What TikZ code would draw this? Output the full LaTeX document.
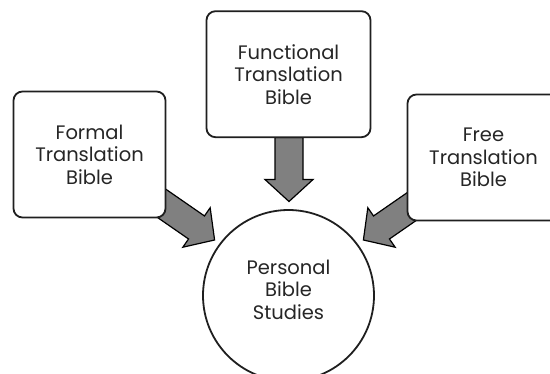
\documentclass[tikz,border=0pt]{standalone}
\usepackage{fontspec}
\setmainfont{Poppins}
\usetikzlibrary{positioning, backgrounds, calc}
\def\ArrowColor{black!50}
\def\LineColor{black!88}
\def\BoxFont{\fontsize{19.5}{22.5}\selectfont}

\begin{document}
\begin{tikzpicture} [
    x=1pt, y=-1pt,
    B/.style = {draw=\LineColor, line width=1.8pt, fill=white, rounded corners=9pt,
                minimum width=152pt, minimum height=126pt, align=center,
                text=black!85, font=\BoxFont},
    C/.style = {draw=\LineColor, line width=1.8pt, fill=white, circle, minimum size=171pt,
                align=center, text depth=12pt, text=black!85, font=\BoxFont},
    pics/fatarrow/.style = {code={
        \draw[fill=\ArrowColor, line width=1.2pt, line join=miter]
          (-#1,14) -- (#1-22,14) -- (#1-22,24) -- (#1,0)
          -- (#1-22,-24) -- (#1-22,-14) -- (-#1,-14) -- cycle;
      }}
    ]
  \useasboundingbox (0,0) rectangle (550,373);

  %%% PERSONAL STUDIES %%%
  \node[C] (study) at (288.5,295.5) {Personal\\Bible\\Studies};

  %%% FUNCTIONAL %%%
  \node[B, minimum width=164pt] (functional) [above=71pt of study] {Functional\\Translation\\Bible};

  %%% FORMAL %%%
  \node[B] (formal) [above left=16pt and 61pt of study] {Formal\\Translation\\Bible};

  %%% FREE %%%
  \node[B] (free) [above right=13pt and 57pt of study] {Free\\Translation\\Bible};

  % Arrows
  \begin{scope}[on background layer]
    \pic[rotate=-90]    at ($(study.center)+(0.5,-126)$)    {fatarrow=32};
    \pic[rotate=-34.7]  at ($(study.center)+(-103.5,-76)$)  {fatarrow=36};
    \pic[rotate=-145.3] at ($(study.center)+(104.5,-76)$)   {fatarrow=36};
  \end{scope}

\end{tikzpicture}
\end{document}
